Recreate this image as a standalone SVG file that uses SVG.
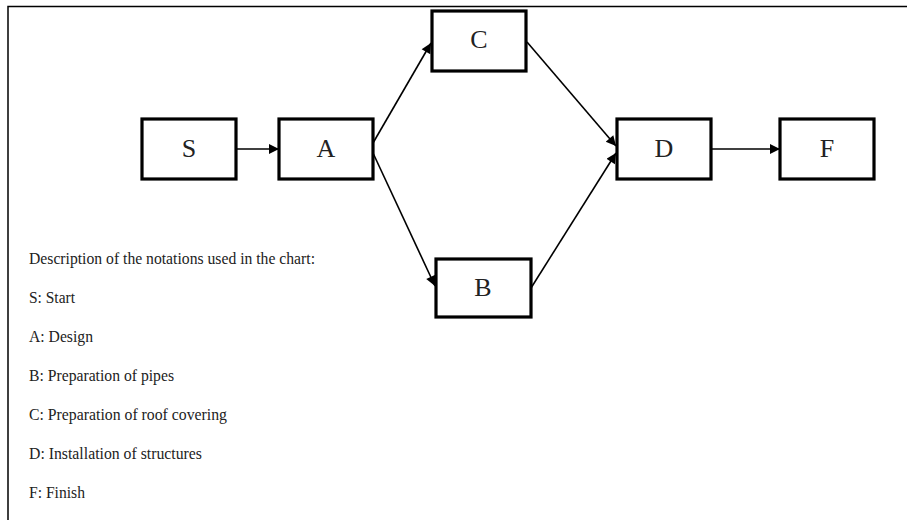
<svg xmlns="http://www.w3.org/2000/svg" width="907" height="520" viewBox="0 0 907 520">
<style>
.box{fill:#fff;stroke:#000;stroke-width:3.2}
.lbl{font-family:"Liberation Serif","Times New Roman",serif;font-size:26px;fill:#222;text-anchor:middle}
.leg{font-family:"Liberation Serif","Times New Roman",serif;font-size:16.5px;fill:#222}
.edge{stroke:#000;stroke-width:1.6;fill:none;marker-end:url(#ah)}
</style>
<defs>
<marker id="ah" viewBox="0 0 10 10" refX="10" refY="5" markerWidth="12" markerHeight="10" markerUnits="userSpaceOnUse" orient="auto">
<path d="M0,0 L10,5 L0,10 z" fill="#000"/>
</marker>
</defs>
<rect width="907" height="520" fill="#fff"/>
<path d="M8,520 V6.5 H907" fill="none" stroke="#000" stroke-width="1.5"/>
<g id="connectors">
<line class="edge" x1="236" y1="149" x2="279" y2="149"/>
<line class="edge" x1="373" y1="143" x2="431" y2="43"/>
<line class="edge" x1="373" y1="153" x2="435" y2="286"/>
<line class="edge" x1="527" y1="42" x2="616" y2="146"/>
<line class="edge" x1="531" y1="288" x2="616" y2="153"/>
<line class="edge" x1="711" y1="149" x2="780" y2="149"/>
</g>
<g id="S"><rect class="box" x="142" y="119" width="94" height="60"/><text class="lbl" x="189" y="157">S</text></g>
<g id="A"><rect class="box" x="279" y="119" width="94" height="60"/><text class="lbl" x="326" y="157">A</text></g>
<g id="C"><rect class="box" x="432" y="11" width="94" height="60"/><text class="lbl" x="479" y="48">C</text></g>
<g id="B"><rect class="box" x="436" y="259" width="95" height="58"/><text class="lbl" x="483" y="296">B</text></g>
<g id="D"><rect class="box" x="617" y="119" width="94" height="60"/><text class="lbl" x="664" y="157">D</text></g>
<g id="F"><rect class="box" x="780" y="119" width="94" height="60"/><text class="lbl" x="827" y="157">F</text></g>
<g id="legend">
<text class="leg" x="29" y="264" textLength="286" lengthAdjust="spacingAndGlyphs">Description of the notations used in the chart:</text>
<text class="leg" x="29" y="303" textLength="46" lengthAdjust="spacingAndGlyphs">S: Start</text>
<text class="leg" x="29" y="342" textLength="64" lengthAdjust="spacingAndGlyphs">A: Design</text>
<text class="leg" x="29" y="381" textLength="145" lengthAdjust="spacingAndGlyphs">B: Preparation of pipes</text>
<text class="leg" x="29" y="420" textLength="198" lengthAdjust="spacingAndGlyphs">C: Preparation of roof covering</text>
<text class="leg" x="29" y="459" textLength="173" lengthAdjust="spacingAndGlyphs">D: Installation of structures</text>
<text class="leg" x="29" y="498" textLength="56" lengthAdjust="spacingAndGlyphs">F: Finish</text>
</g>
</svg>
